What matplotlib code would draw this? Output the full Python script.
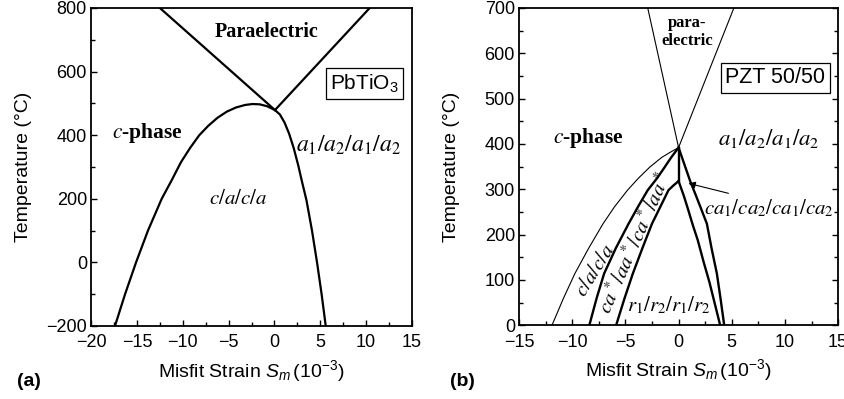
import numpy as np
import matplotlib
matplotlib.use("Agg")
import matplotlib.pyplot as plt
from matplotlib.ticker import MultipleLocator

plt.rcParams['font.family'] = ['Liberation Sans', 'DejaVu Sans']
plt.rcParams['mathtext.fontset'] = 'custom'
plt.rcParams['mathtext.rm'] = 'Liberation Sans'
plt.rcParams['mathtext.it'] = 'Liberation Sans:italic'
plt.rcParams['mathtext.bf'] = 'Liberation Sans:bold'

# (a) PbTiO3 phase boundaries
pbt_para_left_x = [-12.5, 0.06]
pbt_para_left_y = [800, 479]
pbt_para_right_x = [0.06, 10.4]
pbt_para_right_y = [479, 800]
pbt_dome_x = [-17.4, -16.3, -15.1, -13.8, -12.3, -11.2, -10.2, -9.2, -8.2, -7.2, -6.2,
              -5.2, -4.2, -3.2, -2.4, -1.6, -0.8, 0.06,
              0.6, 1.1, 1.6, 2.1, 2.6, 3.0, 3.5, 4.1, 4.65, 5.15, 5.6]
pbt_dome_y = [-200, -100, 0, 100, 200, 259, 315, 360, 400, 430, 455,
              474, 487, 495, 498, 497, 491, 479,
              465, 440, 405, 360, 305, 255, 195, 100, 0, -100, -200]

# (b) PZT 50/50 phase boundaries
pzt_para_left_x = [-2.9, 0]
pzt_para_left_y = [700, 392]
pzt_para_right_x = [0, 5.2]
pzt_para_right_y = [392, 700]
pzt_ca_x = [0, -0.9, -1.6, -2.7, -3.75, -4.8, -6.0, -7.1, -8.45, -9.75, -10.85, -11.9]
pzt_ca_y = [392, 380, 370, 349, 325, 298, 262, 224, 170, 114, 58, 0]
pzt_caa_x = [0, -0.7, -1.3, -2.0, -2.9, -3.8, -4.7, -5.9, -7.0, -7.7, -8.39]
pzt_caa_y = [392, 370, 349, 325, 298, 262, 224, 170, 114, 60, 0]
pzt_vert_x = [0, 0]
pzt_vert_y = [392, 318]
pzt_r_x = [0, -0.5, -0.95, -1.7, -2.5, -3.4, -4.3, -5.1, -5.87]
pzt_r_y = [318, 308, 298, 262, 224, 170, 114, 58, 0]
pzt_inner_x = [0, 0.5, 0.9, 1.35, 1.8, 2.35, 2.9, 3.4, 3.91]
pzt_inner_y = [318, 285, 255, 220, 188, 140, 95, 48, 0]
pzt_outer_x = [0, 0.5, 1.09, 1.6, 2.1, 2.66, 3.1, 3.6, 3.95, 4.29]
pzt_outer_y = [392, 358, 318, 288, 258, 224, 170, 114, 58, 0]

serif = 'Liberation Serif'
xlab = r"Misfit Strain $S_m\,(10^{-3})$"
ylab = "Temperature (°C)"


def style_axes(ax, right_ticks):
    for s in ax.spines.values():
        s.set_linewidth(1.3)
    ax.xaxis.set_major_locator(MultipleLocator(5))
    ax.xaxis.set_minor_locator(MultipleLocator(2.5))
    ax.tick_params(which='both', direction='in', top=False, right=right_ticks,
                   labelsize=13, width=1.0)
    ax.tick_params(which='major', length=4)
    ax.tick_params(which='minor', length=3)
    ax.tick_params(axis='x', pad=6)
    ax.tick_params(axis='y', pad=3)
    ax.set_xlabel(xlab, fontsize=14, math_fontfamily='custom')
    ax.set_ylabel(ylab, fontsize=14)
    ax.xaxis.set_label_coords(0.5, -0.1)
    ax.yaxis.set_label_coords(-0.185, 0.5)


fig = plt.figure(figsize=(8.44, 3.99), dpi=100)

# ---- (a)
ax1 = fig.add_axes([0.108, 0.183, 0.380, 0.797])
ax1.plot(pbt_para_left_x, pbt_para_left_y, color='black', lw=1.6)
ax1.plot(pbt_para_right_x, pbt_para_right_y, color='black', lw=1.6)
ax1.plot(pbt_dome_x, pbt_dome_y, color='black', lw=1.6)
ax1.set_xlim(-20, 15)
ax1.set_ylim(-200, 800)
ax1.yaxis.set_major_locator(MultipleLocator(200))
ax1.yaxis.set_minor_locator(MultipleLocator(100))
style_axes(ax1, False)

ax1.text(-0.9, 725, "Paraelectric", family=serif, weight='bold', fontsize=14.5,
         ha='center', va='center')
ax1.text(9.8, 562, r"PbTiO$_3$", fontsize=15, ha='center', va='center',
         math_fontfamily='custom',
         bbox=dict(boxstyle='square,pad=0.2', fc='white', ec='black', lw=0.9))
ax1.text(-13.9, 407, r"$c$-phase", family=serif, weight='bold', fontsize=15.5,
         ha='center', va='center', math_fontfamily='stix')
ax1.text(8.1, 369, r"$a_\mathit{1}/a_\mathit{2}/a_\mathit{1}/a_\mathit{2}$", fontsize=17,
         ha='center', va='center', math_fontfamily='stix')
ax1.text(-4.0, 200, r"$c/a/c/a$", fontsize=15, ha='center', va='center',
         math_fontfamily='stix')

# ---- (b)
ax2 = fig.add_axes([0.615, 0.185, 0.378, 0.795])
ax2.plot(pzt_para_left_x, pzt_para_left_y, color='black', lw=0.8)
ax2.plot(pzt_para_right_x, pzt_para_right_y, color='black', lw=0.8)
ax2.plot(pzt_ca_x, pzt_ca_y, color='black', lw=0.8)
ax2.plot(pzt_caa_x, pzt_caa_y, color='black', lw=1.7)
ax2.plot(pzt_vert_x, pzt_vert_y, color='black', lw=1.7)
ax2.plot(pzt_r_x, pzt_r_y, color='black', lw=1.7)
ax2.plot(pzt_inner_x, pzt_inner_y, color='black', lw=1.7)
ax2.plot(pzt_outer_x, pzt_outer_y, color='black', lw=1.7)
ax2.set_xlim(-15, 15)
ax2.set_ylim(0, 700)
ax2.yaxis.set_major_locator(MultipleLocator(100))
ax2.yaxis.set_minor_locator(MultipleLocator(50))
style_axes(ax2, True)

ax2.text(0.8, 647, "para-\nelectric", family=serif, weight='bold', fontsize=12,
         ha='center', va='center', linespacing=1.1)
ax2.text(9.1, 546, "PZT 50/50", fontsize=15.5, ha='center', va='center',
         bbox=dict(boxstyle='square,pad=0.2', fc='white', ec='black', lw=0.9))
ax2.text(-8.5, 413, r"$c$-phase", family=serif, weight='bold', fontsize=15.5,
         ha='center', va='center', math_fontfamily='stix')
ax2.text(8.5, 413, r"$a_1/a_2/a_1/a_2$", fontsize=16.5, ha='center', va='center',
         math_fontfamily='stix')
ax2.text(8.5, 258, r"$ca_1/ca_2/ca_1/ca_2$", fontsize=15, ha='center', va='center',
         math_fontfamily='stix')
ax2.text(-7.85, 121, r"$c/a/c/a$", fontsize=15, ha='center', va='center',
         rotation=58, rotation_mode='anchor', math_fontfamily='stix')
ax2.text(-4.1, 180, r"$ca^*/aa^*/ca^*/aa^*$", fontsize=15, ha='center', va='center',
         rotation=66, rotation_mode='anchor', math_fontfamily='stix')
ax2.text(-0.95, 45, r"$r_1/r_2/r_1/r_2$", fontsize=15, ha='center', va='center',
         math_fontfamily='stix')
ax2.annotate("", xy=(0.93, 313), xytext=(4.69, 291),
             arrowprops=dict(arrowstyle='-|>', color='black', lw=0.8,
                             mutation_scale=10, shrinkA=0, shrinkB=0))

fig.text(0.020, 0.043, "(a)", fontsize=14, weight='bold', va='center')
fig.text(0.533, 0.043, "(b)", fontsize=14, weight='bold', va='center')

fig.savefig("out.png", dpi=100)
